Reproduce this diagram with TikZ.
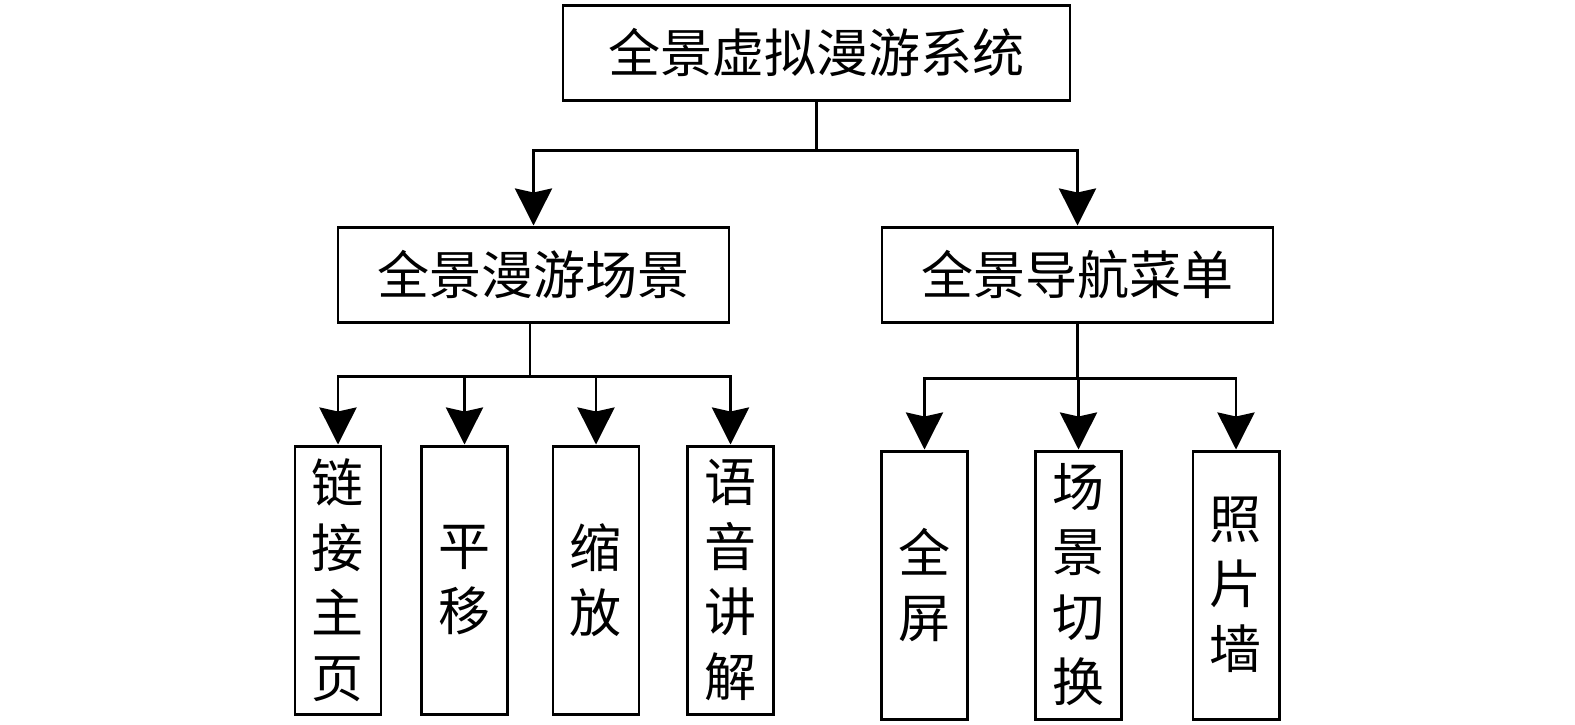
\documentclass[tikz,border=0pt]{standalone}
\usepackage{fontspec}
\usepackage{tikz}
\usetikzlibrary{arrows.meta,calc}
\newfontfamily\cjk{Noto Sans CJK SC}
\tikzset{
  box/.style={draw,line width=0.85pt,inner sep=0pt,align=center,
              font=\cjk\fontsize{14.8pt}{18.5pt}\selectfont},
  wide/.style={box,minimum width=3.91cm,minimum height=0.95cm},
  leaf/.style={box,minimum width=0.86cm,minimum height=2.68cm},
  fl/.style={line width=0.85pt,
             -{Stealth[length=0.37cm,width=0.37cm,inset=0.04cm]}},
}
\begin{document}
\begin{tikzpicture}[x=1cm, y=1cm]
  \useasboundingbox (0,0) rectangle (15.75,-7.24);
  % root and the two branches
  \node[box, minimum width=5.07cm, minimum height=0.95cm] (sys)
       at (8.165,-0.525) {全景虚拟漫游系统};
  \node[wide] (scene) at (5.335,-2.745) {全景漫游场景};
  \node[wide] (menu) at (10.775,-2.745) {全景导航菜单};
  % leaves under the scene
  \node[leaf] (link) at (3.38,-5.80) {链\\接\\主\\页};
  \node[leaf] (pan) at (4.645,-5.80) {平\\移};
  \node[leaf] (zoom) at (5.96,-5.80) {缩\\放};
  \node[leaf] (voice) at (7.305,-5.80) {语\\音\\讲\\解};
  % leaves under the menu
  \node[leaf] (full) at (9.245,-5.85) {全\\屏};
  \node[leaf] (switch) at (10.785,-5.85) {场\\景\\切\\换};
  \node[leaf] (wall) at (12.36,-5.85) {照\\片\\墙};
  % connectors
  \foreach \t in {scene,menu}
    \draw[fl] (sys.south) -- ++(0,-0.49) -| (\t.north);
  \foreach \t in {link,pan,zoom,voice}
    \draw[fl] ($(scene.south)+(-0.035,0)$) -- ++(0,-0.53) -| (\t.north);
  \foreach \t in {full,switch,wall}
    \draw[fl] (menu.south) -- ++(0,-0.55) -| (\t.north);
\end{tikzpicture}
\end{document}
